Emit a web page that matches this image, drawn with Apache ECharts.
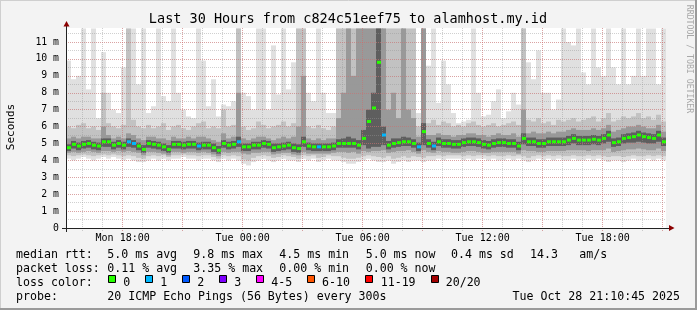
<!DOCTYPE html>
<html><head><meta charset="utf-8">
<script src="https://cdn.jsdelivr.net/npm/echarts@6/dist/echarts.min.js"></script>
<style>html,body{margin:0;padding:0;background:#f3f3f3}#c{width:697px;height:310px}</style>
</head><body><div id="c"></div>
<script>
// ---- data: 120 columns of 15 minutes, starting Mon 15:10 ----
const STEP = 15;
const median = [4.75,4.95,4.85,4.95,5.0,4.9,4.85,5.1,5.1,4.9, 5.0,4.9,5.1,5.0,4.85,4.65,5.0,4.95,4.9,4.8,
 4.65,4.95,4.95,4.9,4.95,4.95,4.85,4.9,4.9,4.75, 4.6,5.0,4.9,4.95,5.1,4.8,4.8,4.9,4.9,5.0,
 4.95,4.75,4.8,4.85,4.9,4.75,4.7,5.1,4.85,4.8, 4.8,4.8,4.8,4.85,5.0,5.0,5.0,5.0,4.9,5.3,
 6.3,7.1,9.8,5.5,4.9,5.0,5.05,5.1,5.1,5.0, 4.8,5.7,5.0,4.85,5.1,5.0,5.0,4.95,4.95,5.05,
 5.1,5.1,5.05,4.95,4.9,5.0,5.05,5.05,5.0,5.0, 4.85,5.3,5.1,5.1,5.0,5.0,5.1,5.1,5.1,5.1,
 5.2,5.3,5.2,5.2,5.2,5.25,5.2,5.3,5.5,5.05, 5.1,5.3,5.35,5.4,5.5,5.4,5.35,5.3,5.5,5.1];
const lossCount = [0,0,0,0,0,0,0,0,0,0, 0,0,1,1,0,0,0,0,0,0, 0,0,0,0,0,0,1,0,0,0, 0,0,0,0,1,0,0,0,0,0,
 0,0,0,0,0,0,0,0,0,0, 1,0,0,0,0,0,0,0,0,0, 0,0,0,1,0,0,0,0,0,0, 1,0,0,1,0,0,0,0,0,0,
 0,0,0,0,0,0,0,0,0,0, 0,0,0,0,0,0,0,0,0,0, 0,0,0,0,0,0,0,0,0,0, 0,0,0,0,0,0,0,0,0,0];
const pingMin = [4.1,4.0,4.1,4.2,4.1,4.0,4.1,4.2,4.1,4.2, 4.1,4.0,4.1,4.0,3.9,3.9,4.0,4.1,4.0,4.1,
 4.0,4.1,4.1,4.2,4.1,4.1,4.0,4.1,4.1,4.0, 3.9,4.1,4.0,4.1,4.0,3.8,3.7,3.9,4.0,4.1,
 4.0,3.9,4.0,4.1,4.0,4.0,3.9,4.1,4.0,4.1, 3.9,4.0,4.1,4.0,4.0,3.9,3.8,3.8,3.9,4.0,
 4.1,4.0,3.9,3.9,4.0,3.8,3.9,4.0,3.9,4.0, 4.0,3.9,4.0,4.0,4.1,4.0,4.1,4.1,4.1,4.0,
 4.1,4.0,4.1,4.1,4.0,4.1,4.0,4.0,4.1,4.0, 4.1,4.0,3.9,4.0,4.1,4.0,4.1,4.0,4.1,4.0,
 4.0,4.1,4.0,4.0,4.1,4.0,4.1,4.0,3.9,4.0, 4.0,3.9,4.0,4.1,4.0,4.0,4.1,4.0,4.1,4.0];
const pingMax = [9.9,8.8,9.0,11.8,8.2,11.8,6.5,10.4,8.0,7.0, 6.8,9.5,11.8,11.8,8.5,11.8,6.8,7.2,11.8,7.8,
 7.5,11.8,8.0,7.0,6.6,6.5,11.8,9.9,7.2,8.8, 6.6,7.3,7.2,7.5,11.8,8.0,7.8,7.0,11.8,11.8,
 7.0,10.8,7.9,11.8,8.2,9.8,11.8,11.8,8.0,7.5, 11.8,8.0,6.8,6.8,11.8,11.8,11.8,11.8,11.8,11.8,
 11.8,11.8,11.8,11.8,11.8,11.8,11.8,11.8,11.8,11.8, 6.8,11.8,9.6,11.8,7.4,9.9,8.5,6.8,6.2,6.3,
 6.4,11.8,8.0,6.6,6.7,7.5,8.2,6.5,6.9,8.0, 7.3,11.8,9.8,8.8,10.5,8.0,8.0,7.0,7.6,11.8,
 11.0,10.8,11.8,9.2,8.5,11.8,9.5,9.0,11.8,9.5, 8.5,11.8,8.5,9.0,11.8,9.0,11.8,11.8,8.5,11.8];
const p10 = [4.3,4.25,4.3,4.35,4.3,4.25,4.3,4.35,4.3,4.35, 4.3,4.25,4.3,4.25,4.15,4.1,4.25,4.3,4.25,4.3,
 4.2,4.3,4.3,4.35,4.3,4.3,4.25,4.3,4.3,4.2, 4.1,4.3,4.25,4.3,4.25,4.05,4.0,4.15,4.25,4.3,
 4.25,4.15,4.2,4.3,4.25,4.2,4.1,4.3,4.25,4.3, 4.15,4.2,4.3,4.25,4.25,4.15,4.1,4.1,4.15,4.25,
 4.3,4.25,4.2,4.15,4.25,4.1,4.15,4.25,4.15,4.25, 4.2,4.15,4.25,4.25,4.3,4.25,4.3,4.3,4.3,4.25,
 4.3,4.25,4.3,4.3,4.25,4.3,4.25,4.25,4.3,4.25, 4.3,4.25,4.15,4.25,4.3,4.25,4.3,4.25,4.3,4.25,
 4.25,4.3,4.25,4.25,4.3,4.25,4.3,4.25,4.2,4.25, 4.25,4.2,4.25,4.3,4.25,4.25,4.3,4.25,4.3,4.25];
const p90 = [6.0,5.9,6.1,6.2,5.9,6.0,5.8,8.0,6.2,6.0, 5.9,6.1,11.8,6.4,6.0,5.9,6.1,5.9,6.0,6.2,
 5.8,6.0,6.1,5.9,5.8,6.0,6.2,6.3,5.9,6.0, 5.9,7.0,6.0,6.1,11.8,6.0,5.8,5.9,6.3,6.1,
 5.9,6.0,6.1,6.3,6.0,6.2,11.8,11.8,6.0,5.9, 6.1,5.9,5.8,6.0,11.8,11.8,11.8,11.8,11.8,11.8,
 11.8,11.8,11.8,11.8,11.8,11.8,11.8,11.8,11.8,11.8, 6.0,11.8,6.2,6.4,6.1,6.3,6.2,6.0,6.1,6.0,
 6.2,6.3,6.1,6.0,6.1,6.2,6.0,6.1,6.2,6.3, 6.1,11.8,6.4,6.3,6.5,6.2,6.3,6.1,6.4,6.3,
 6.4,6.5,6.3,6.4,6.5,6.6,6.3,6.5,6.8,6.3, 6.4,6.6,6.5,6.6,6.8,6.5,6.6,6.4,6.7,6.3];
const p25 = [4.45,4.5,4.45,4.5,4.55,4.5,4.45,4.55,4.55,4.5, 4.55,4.5,4.55,4.5,4.45,4.3,4.5,4.5,4.45,4.4,
 4.3,4.5,4.5,4.45,4.5,4.5,4.45,4.5,4.45,4.35, 4.25,4.5,4.45,4.5,4.5,4.4,4.35,4.45,4.45,4.5,
 4.5,4.35,4.4,4.45,4.45,4.35,4.3,4.5,4.4,4.4, 4.4,4.4,4.4,4.45,4.5,4.5,4.45,4.5,4.4,4.55,
 4.5,4.55,4.55,4.6,4.45,4.5,4.55,4.55,4.6,4.5, 4.4,4.6,4.5,4.45,4.55,4.5,4.5,4.45,4.45,4.5,
 4.55,4.55,4.5,4.45,4.45,4.5,4.5,4.5,4.5,4.5, 4.4,4.6,4.55,4.55,4.5,4.5,4.55,4.55,4.55,4.55,
 4.6,4.6,4.6,4.6,4.55,4.6,4.6,4.6,4.7,4.5, 4.55,4.6,4.65,4.65,4.7,4.65,4.6,4.6,4.7,4.55];
const p75 = [5.3,5.4,5.3,5.4,5.4,5.3,5.3,6.0,5.5,5.3, 5.4,5.3,5.6,5.5,5.3,5.2,5.4,5.4,5.3,5.3,
 5.2,5.4,5.3,5.3,5.4,5.3,5.4,5.4,5.3,5.2, 5.1,5.6,5.3,5.4,8.0,5.3,5.2,5.3,5.4,5.4,
 5.3,5.2,5.3,5.4,5.3,5.4,6.0,9.0,5.3,5.2, 5.3,5.2,5.3,5.3,6.5,8.0,11.8,9.0,11.8,11.8,
 11.8,11.8,11.8,11.8,7.0,8.0,6.5,11.8,7.0,6.5, 5.4,11.8,5.5,5.5,5.6,5.5,5.5,5.4,5.5,5.5,
 5.6,5.6,5.5,5.5,5.4,5.5,5.6,5.5,5.5,5.6, 5.4,7.0,5.6,5.7,5.6,5.6,5.7,5.6,5.7,5.7,
 5.8,5.9,5.8,5.8,5.8,5.9,5.8,5.9,6.1,5.7, 5.8,5.9,6.0,6.0,6.1,6.0,5.9,5.9,6.1,5.7];
const p40 = [4.55,4.7,4.6,4.7,4.75,4.65,4.6,4.8,4.8,4.65, 4.75,4.65,4.8,4.75,4.6,4.45,4.75,4.7,4.65,4.55,
 4.45,4.7,4.7,4.65,4.7,4.7,4.6,4.65,4.65,4.5, 4.4,4.75,4.65,4.7,4.8,4.55,4.55,4.65,4.65,4.75,
 4.7,4.5,4.55,4.6,4.65,4.5,4.45,4.8,4.6,4.55, 4.55,4.55,4.55,4.6,4.75,4.75,4.75,4.75,4.65,4.9,
 4.7,4.8,4.8,4.9,4.65,4.75,4.8,4.85,4.85,4.75, 4.55,4.9,4.75,4.6,4.85,4.75,4.75,4.7,4.7,4.8,
 4.85,4.85,4.8,4.7,4.65,4.75,4.8,4.8,4.75,4.75, 4.6,4.95,4.85,4.85,4.75,4.75,4.85,4.85,4.85,4.85,
 4.9,5.0,4.9,4.9,4.9,4.95,4.9,5.0,5.1,4.8, 4.85,5.0,5.05,5.05,5.1,5.05,5.0,5.0,5.1,4.85];
const p60 = [4.95,5.15,5.05,5.15,5.2,5.1,5.05,5.3,5.3,5.1, 5.2,5.1,5.3,5.2,5.05,4.9,5.2,5.15,5.1,5.0,
 4.9,5.15,5.15,5.1,5.15,5.15,5.05,5.1,5.1,5.0, 4.85,5.2,5.1,5.15,5.4,5.0,5.0,5.1,5.1,5.2,
 5.15,5.0,5.0,5.05,5.1,5.0,4.95,5.4,5.05,5.0, 5.0,5.0,5.0,5.05,5.25,5.3,5.4,5.3,5.2,5.8,
 7.0,8.0,11.8,6.0,5.15,5.3,5.3,5.4,5.35,5.25, 5.05,6.2,5.25,5.1,5.35,5.25,5.25,5.2,5.2,5.3,
 5.35,5.35,5.3,5.2,5.15,5.25,5.3,5.3,5.25,5.25, 5.1,5.6,5.35,5.35,5.25,5.25,5.35,5.35,5.35,5.35,
 5.45,5.55,5.45,5.45,5.45,5.5,5.45,5.55,5.75,5.3, 5.35,5.55,5.6,5.65,5.75,5.65,5.6,5.55,5.75,5.35];

const lossColors = ['#26ff00','#00b8ff','#0059ff','#7e00ff','#ff00ff','#ff5500','#ff0000','#a10000'];
const lossLabels = ['0','1','2','3','4-5','6-10','11-19','20/20'];
const yMax = 11.83;
const FONT = '"DejaVu Sans Mono", monospace';

// time categories (10 minute steps from Mon 15:10 to Tue 21:10), used for ticks/grid only
const dayNames = ['Mon','Tue'];
const timeCats = [];
for (let k = 0; k <= 180; k++) {
  const m = 15*60 + 10 + 10*k;
  const d = Math.floor(m/1440), hh = Math.floor((m%1440)/60), mm = m%60;
  timeCats.push(dayNames[d] + ' ' + String(hh).padStart(2,'0') + ':' + String(mm).padStart(2,'0'));
}
const hourOf = i => parseInt(timeCats[i].slice(4,6));
const isHour = i => timeCats[i].endsWith(':00');
const is3h = i => isHour(i) && hourOf(i) % 3 === 0;
const is6h = i => isHour(i) && hourOf(i) % 6 === 0;

function lossIdx(n){ if(n<=3) return n; if(n<=5) return 4; if(n<=10) return 5; if(n<=19) return 6; return 7; }

function band(lo, hi, color, name){
  return {
    type: 'custom', name, xAxisIndex: 0, yAxisIndex: 0, z: 2, silent: true,
    data: median.map((_, i) => [i, lo[i], hi[i]]),
    renderItem: function(params, api){
      const i = api.value(0);
      const a = api.coord([i*STEP, api.value(1)]);
      const b = api.coord([(i+1)*STEP, api.value(2)]);
      return {type:'rect', shape:{x:a[0], y:b[1], width:b[0]-a[0], height:a[1]-b[1]}, style:{fill:color}};
    }
  };
}

const gridLineGrey = {color:'rgba(150,150,150,0.45)', type:[1,1], width:1};
const gridLineRed = {color:'rgba(235,90,90,0.38)', type:[1,1], width:1};

const graphics = [];
function txt(x, y, s, size){
  graphics.push({type:'text', x, y, z: 100, silent:true,
    style:{text:s, font: size+'px '+FONT, fill:'#000', textAlign:'left', align:'left', textVerticalAlign:'middle', verticalAlign:'middle'}});
}
// frame
graphics.push({type:'line', shape:{x1:0.5,y1:0,x2:0.5,y2:310}, style:{stroke:'#cfcfcf', lineWidth:1}});
graphics.push({type:'line', shape:{x1:0,y1:0.5,x2:697,y2:0.5}, style:{stroke:'#cfcfcf', lineWidth:1}});
graphics.push({type:'line', shape:{x1:696,y1:0,x2:696,y2:310}, style:{stroke:'#9a9a9a', lineWidth:2}});
graphics.push({type:'line', shape:{x1:0,y1:309,x2:697,y2:309}, style:{stroke:'#9a9a9a', lineWidth:2}});
// title
graphics.push({type:'text', x:348, y:19, silent:true,
  style:{text:'Last 30 Hours from c824c51eef75 to alamhost.my.id', font:'13.5px '+FONT, fill:'#000', textAlign:'center', align:'center', textVerticalAlign:'middle', verticalAlign:'middle'}});
// y name
graphics.push({type:'text', x:11, y:127, rotation:Math.PI/2, silent:true,
  style:{text:'Seconds', font:'11px '+FONT, fill:'#000', textAlign:'center', align:'center', textVerticalAlign:'middle', verticalAlign:'middle'}});
// side watermark
graphics.push({type:'text', x:689, y:59, rotation:-Math.PI/2, silent:true,
  style:{text:'RRDTOOL / TOBI OETIKER', font:'8.2px '+FONT, fill:'#a8a8a8', textAlign:'center', align:'center', textVerticalAlign:'middle', verticalAlign:'middle'}});
// arrows and axis lines
graphics.push({type:'polygon', z:100, shape:{points:[[63.5,26.5],[69.5,26.5],[66.5,21]]}, style:{fill:'#8b0000'}});
graphics.push({type:'polygon', z:100, shape:{points:[[669,225],[669,231],[674.5,228]]}, style:{fill:'#8b0000'}});
graphics.push({type:'line', z:99, shape:{x1:66.5,y1:26,x2:66.5,y2:232}, style:{stroke:'#222', lineWidth:1}});
graphics.push({type:'line', z:99, shape:{x1:62,y1:228.5,x2:670,y2:228.5}, style:{stroke:'#222', lineWidth:1}});

// legend lines
const L = 11.6;
txt(16, 254.5, 'median rtt:', L); txt(107.3, 254.5, '5.0 ms avg', L); txt(193.3, 254.5, '9.8 ms max', L);
txt(279.3, 254.5, '4.5 ms min', L); txt(365.7, 254.5, '5.0 ms now', L); txt(451, 254.5, '0.4 ms sd', L);
txt(530, 254.5, '14.3', L); txt(579.3, 254.5, 'am/s', L);
txt(16, 268.5, 'packet loss:', L); txt(107.3, 268.5, '0.11 % avg', L); txt(193.3, 268.5, '3.35 % max', L);
txt(279.3, 268.5, '0.00 % min', L); txt(365.7, 268.5, '0.00 % now', L);
txt(16, 282.5, 'loss color:', L);
const boxX = [108.5, 145.5, 182.5, 219.5, 256.5, 307.5, 365.5, 431.5];
const lblX = [123.3, 160.3, 197.3, 234.3, 271.3, 322, 380.7, 445.7];
lossLabels.forEach((lab, k) => {
  graphics.push({type:'rect', z:100, shape:{x:boxX[k], y:275.5, width:7, height:7}, style:{fill:lossColors[k], stroke:'#000', lineWidth:1}});
  txt(lblX[k], 282.5, lab, L);
});
txt(16, 296.5, 'probe:', L); txt(107.3, 296.5, '20 ICMP Echo Pings (56 Bytes) every 300s', L);
graphics.push({type:'text', x:680, y:296.5, silent:true, style:{text:'Tue Oct 28 21:10:45 2025', font:L+'px '+FONT, fill:'#000', textAlign:'right', align:'right', textVerticalAlign:'middle', verticalAlign:'middle'}});

const chart = echarts.init(document.getElementById('c'), null, {renderer:'canvas'});
chart.setOption({
  animation: false,
  backgroundColor: '#f3f3f3',
  textStyle: {fontFamily: FONT},
  grid: {left:66, width:600, top:28, height:200, show:true, backgroundColor:'#ffffff', borderWidth:0},
  xAxis: [
    {type:'value', min:0, max:STEP*median.length, show:false},
    {type:'category', data:timeCats, boundaryGap:false, position:'bottom', z:3,
      axisLine:{show:false},
      axisTick:{show:true, interval:(i)=>isHour(i), length:3, lineStyle:gridLineGrey},
      axisLabel:{show:true, interval:(i)=>is6h(i), color:'#000', fontSize:10, fontFamily:FONT, margin:5},
      splitLine:{show:true, interval:(i)=>isHour(i), lineStyle:gridLineGrey}},
    {type:'category', data:timeCats, boundaryGap:false, position:'bottom', z:4,
      axisLine:{show:false},
      axisTick:{show:true, interval:(i)=>is3h(i), length:3, lineStyle:gridLineRed},
      axisLabel:{show:false},
      splitLine:{show:true, interval:(i)=>is3h(i), lineStyle:gridLineRed}}
  ],
  yAxis: [
    {type:'value', min:0, max:yMax, interval:1, position:'left', z:4,
      axisLine:{show:false}, axisTick:{show:false},
      axisLabel:{color:'#000', fontSize:9.8, fontFamily:FONT, margin:7,
        formatter:(v)=> Math.abs(v-Math.round(v))<1e-6 ? (v===0?'0':Math.round(v)+' m') : ''},
      splitLine:{show:true, showMaxLine:false, lineStyle:gridLineRed}},
    {type:'value', min:0, max:yMax, interval:0.5, position:'left', z:3,
      axisLine:{show:false}, axisTick:{show:false}, axisLabel:{show:false},
      splitLine:{show:true, showMaxLine:false, lineStyle:gridLineGrey}}
  ],
  series: [
    band(pingMin, pingMax, '#e0e0e0', 'all'),
    band(p10, p90, '#c2c2c2', 'p10-p90'),
    band(p25, p75, '#999999', 'p25-p75'),
    band(p40, p60, '#5e5e5e', 'p40-p60'),
    {type:'custom', name:'median', xAxisIndex:0, yAxisIndex:0, z:6, silent:true,
      data: median.map((v,i)=>[i, v, lossCount[i]]),
      renderItem: function(params, api){
        const i = api.value(0);
        const a = api.coord([i*STEP, api.value(1)]);
        const b = api.coord([(i+1)*STEP, api.value(1)]);
        return {type:'rect', shape:{x:a[0]+1, y:a[1]-1.5, width:b[0]-a[0]-1, height:3},
          style:{fill: lossColors[lossIdx(api.value(2))]}};
      }}
  ],
  graphic: graphics
});
</script></body></html>
